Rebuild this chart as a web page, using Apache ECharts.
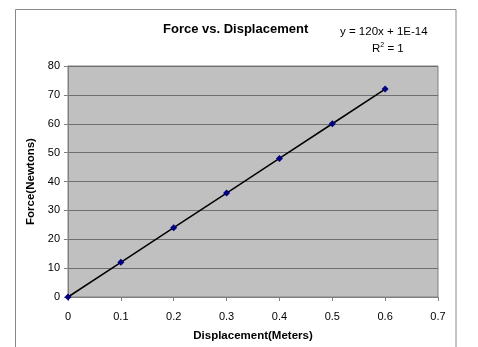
<!DOCTYPE html>
<html>
<head>
<meta charset="utf-8">
<script src="https://cdn.jsdelivr.net/npm/echarts@6/dist/echarts.min.js"></script>
<style>
  html, body { margin: 0; padding: 0; background: #fff }
  #chart { width: 478px; height: 347px }
</style>
</head>
<body>
<div id="chart"></div>
<script>
// displacement (m) and measured force (N)
const displacement = [0, 0.1, 0.2, 0.3, 0.4, 0.5, 0.6]
const force = [0, 12, 24, 36, 48, 60, 72]
const xTicks = [0, 0.1, 0.2, 0.3, 0.4, 0.5, 0.6, 0.7]
const yTicks = [0, 10, 20, 30, 40, 50, 60, 70, 80]

const font = 'Liberation Sans, Arial, sans-serif'
const chart = echarts.init(document.getElementById('chart'))

chart.setOption({
  animation: false,
  textStyle: { fontFamily: font },
  title: {
    text: 'Force vs. Displacement',
    left: 163, top: 23, padding: 0,
    textStyle: { fontSize: 13, fontWeight: 'bold', color: '#000', fontFamily: font }
  },
  graphic: [
    {
      type: 'rect', silent: true, z: -10,
      shape: { x: 15.5, y: 9.5, width: 440.5, height: 345 },
      style: { fill: '#fff', stroke: '#888', lineWidth: 1 }
    },
    {
      type: 'text', left: 340, top: 26,
      style: { text: 'y = 120x + 1E-14', fontSize: 11.5, fill: '#000', fontFamily: font }
    },
    {
      type: 'text', left: 372, top: 42,
      style: {
        text: 'R{s|2} = 1', fontSize: 11.5, fill: '#000', fontFamily: font,
        rich: { s: { fontSize: 7, verticalAlign: 'top', padding: [0, 0, 6, 0], fontFamily: font } }
      }
    }
  ],
  grid: {
    left: 68, right: 40, top: 66, bottom: 48,
    show: true, backgroundColor: '#c0c0c0', borderColor: '#808080', borderWidth: 1
  },
  xAxis: {
    type: 'value',
    min: xTicks[0], max: xTicks[xTicks.length - 1], interval: 0.1,
    name: 'Displacement(Meters)', nameLocation: 'middle', nameGap: 33,
    nameTextStyle: { fontSize: 11.5, fontWeight: 'bold', color: '#000', fontFamily: font },
    axisLine: { lineStyle: { color: '#808080', width: 1 } },
    axisTick: { show: true, length: 4, lineStyle: { color: '#808080' } },
    axisLabel: { fontSize: 11, color: '#000', margin: 14, formatter: v => String(+v.toFixed(1)) },
    splitLine: { show: false }
  },
  yAxis: {
    type: 'value',
    min: yTicks[0], max: yTicks[yTicks.length - 1], interval: 10,
    name: 'Force(Newtons)', nameLocation: 'middle', nameGap: 27,
    nameTextStyle: { fontSize: 11.5, fontWeight: 'bold', color: '#000', fontFamily: font },
    axisLine: { show: true, lineStyle: { color: '#808080', width: 1 } },
    axisTick: { show: true, length: 4, lineStyle: { color: '#808080' } },
    axisLabel: { fontSize: 11, color: '#000', margin: 8 },
    splitLine: { show: true, lineStyle: { color: '#6e6e6e', width: 1 } }
  },
  series: [{
    type: 'line',
    data: displacement.map((x, i) => [x, force[i]]),
    symbol: 'diamond', symbolSize: 7,
    itemStyle: { color: '#000080' },
    lineStyle: { color: '#000', width: 1.5 },
    z: 5
  }]
})
</script>
</body>
</html>
